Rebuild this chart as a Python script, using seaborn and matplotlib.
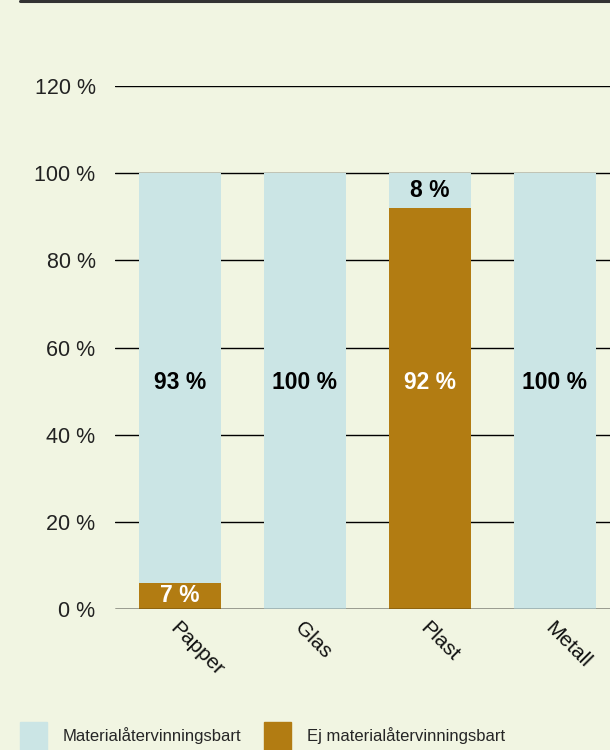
import matplotlib
matplotlib.use("Agg")
import matplotlib.pyplot as plt
import seaborn as sns
import pandas as pd
from matplotlib.lines import Line2D

# data
categories = ["Papper", "Glas", "Plast", "Metall"]
total = [100, 100, 100, 100]
non_recyclable = [6, 0, 92, 0]
recyclable_labels = ["93 %", "100 %", "8 %", "100 %"]
non_recyclable_labels = ["7 %", "", "92 %", ""]
series_names = ["Materialåtervinningsbart", "Ej materialåtervinningsbart"]
yticks = [0, 20, 40, 60, 80, 100, 120]

bg = "#f1f5e2"
light = "#cbe5e5"
brown = "#b27c12"

sns.set_style("white", {"axes.facecolor": bg, "figure.facecolor": bg})
plt.rcParams["font.family"] = ["Liberation Sans", "DejaVu Sans"]

df = pd.DataFrame({"cat": categories, "total": total, "non": non_recyclable})

fig = plt.figure(figsize=(6.1, 7.5), dpi=100)
ax = fig.add_axes([115 / 610, 1 - 609 / 750, 1 - 115 / 610, (609 - 86) / 750])

sns.barplot(data=df, x="cat", y="total", color=light, width=0.656,
            saturation=1, linewidth=0, ax=ax, zorder=2)
sns.barplot(data=df, x="cat", y="non", color=brown, width=0.656,
            saturation=1, linewidth=0, ax=ax, zorder=3)

ax.set_ylim(0, 120)
ax.set_xlim(-0.52, 3.44)
ax.set_yticks(yticks)
ax.set_yticklabels([f"{t} %" for t in yticks])
ax.set_axisbelow(True)
ax.yaxis.grid(True, color="black", linewidth=1.0)
ax.xaxis.grid(False)
ax.axhline(0, color="black", linewidth=1.0, zorder=5)
for s in ax.spines.values():
    s.set_visible(False)
ax.set_xlabel("")
ax.set_ylabel("")
ax.tick_params(axis="y", length=0, pad=14, labelsize=15.5, colors="#222222")
ax.tick_params(axis="x", length=0, pad=7, labelsize=15, colors="#111111")
for lbl in ax.get_xticklabels():
    lbl.set_rotation(-45)
    lbl.set_ha("left")
    lbl.set_va("top")
    lbl.set_rotation_mode("anchor")

# labels on bars
for i, cat in enumerate(categories):
    non = non_recyclable[i]
    if non > 50:
        ax.text(i, 52, non_recyclable_labels[i], ha="center", va="center",
                fontsize=16.5, fontweight="bold", color="white", zorder=6)
        ax.text(i, (non + total[i]) / 2, recyclable_labels[i], ha="center",
                va="center", fontsize=16.5, fontweight="bold", color="black", zorder=6)
    else:
        ax.text(i, 52, recyclable_labels[i], ha="center", va="center",
                fontsize=16.5, fontweight="bold", color="black", zorder=6)
        if non > 0:
            ax.text(i, non / 2, non_recyclable_labels[i], ha="center",
                    va="center", fontsize=16.5, fontweight="bold", color="white", zorder=6)

# top rule
fig.add_artist(Line2D([20 / 610, 1], [1 - 1 / 750, 1 - 1 / 750],
                      color="#333333", linewidth=2.2))

# legend
handles = [plt.Rectangle((0, 0), 1, 1, color=light),
           plt.Rectangle((0, 0), 1, 1, color=brown)]
fig.legend(handles, series_names, loc="center left",
           bbox_to_anchor=(20 / 610, 14 / 750), ncol=2, frameon=False,
           fontsize=12, handlelength=1.6, handleheight=2.2,
           handletextpad=0.95, columnspacing=1.4, borderpad=0, borderaxespad=0)

fig.savefig("out.png", dpi=100, facecolor=bg)
